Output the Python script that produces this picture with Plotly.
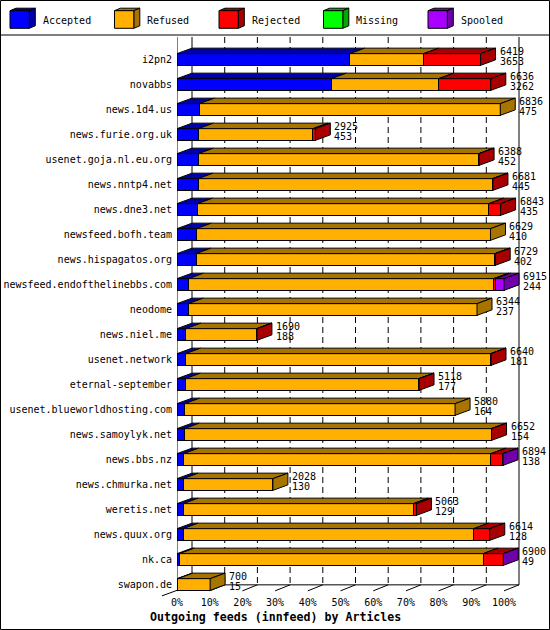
import plotly.graph_objects as go

# ---------------- data ----------------
hosts = ["i2pn2", "novabbs", "news.1d4.us", "news.furie.org.uk", "usenet.goja.nl.eu.org",
         "news.nntp4.net", "news.dne3.net", "newsfeed.bofh.team", "news.hispagatos.org",
         "newsfeed.endofthelinebbs.com", "neodome", "news.niel.me", "usenet.network",
         "eternal-september", "usenet.blueworldhosting.com", "news.samoylyk.net",
         "news.bbs.nz", "news.chmurka.net", "weretis.net", "news.quux.org", "nk.ca", "swapon.de"]
accepted = [3653, 3262, 475, 453, 452, 445, 435, 410, 402, 244, 237, 188, 181, 177, 164, 154,
            138, 130, 129, 128, 49, 15]
refused = [1563, 2271, 6361, 2422, 5930, 6228, 6158, 6219, 6322, 6452, 6107, 1498, 6454, 4937,
           5716, 6493, 6500, 1898, 4864, 6146, 6423, 685]
rejected = [1203, 1103, 0, 50, 6, 8, 250, 0, 5, 40, 0, 4, 5, 4, 0, 5, 253, 0, 70, 340, 425, 0]
missing = [0, 0, 0, 0, 0, 0, 0, 0, 0, 0, 0, 0, 0, 0, 0, 0, 0, 0, 0, 0, 0, 0]
spooled = [0, 0, 0, 0, 0, 0, 0, 0, 0, 179, 0, 0, 0, 0, 0, 0, 3, 0, 0, 0, 3, 0]
series_names = ["Accepted", "Refused", "Rejected", "Missing", "Spooled"]
tick_labels = ["0%", "10%", "20%", "30%", "40%", "50%", "60%", "70%", "80%", "90%", "100%"]
chart_title = "Outgoing feeds (innfeed) by Articles"

# ---------------- style ----------------
front_colors = ["#0000ff", "#ffb000", "#ff0000", "#00ff00", "#aa00ff"]
dark_colors = ["#0000a8", "#a87400", "#a80000", "#00a800", "#7000a8"]
FONT = "DejaVu Sans Mono"
FIG_W, FIG_H = 550, 630
L, R, T, B = 177, 20, 37, 33
W = FIG_W - L - R
H = FIG_H - T - B
PX_FULL = 327.0      # pixel length of 100 %
ROW_PX = 25.0

series = [accepted, refused, rejected, missing, spooled]
n = len(hosts)
totals = [sum(s[i] for s in series) for i in range(n)]
scale_max = max(totals)
ppu = PX_FULL / scale_max
x_max = W / ppu
dx = 15.0 / ppu
dy = 5.5 / ROW_PX
bh = 11.7 / ROW_PX
y_top = -0.9
y_bot = y_top + H / ROW_PX


def px_x(px):
    return (px - L) / W


def px_y(py):
    return (T + H - py) / H


fig = go.Figure()
for name, vals, col in zip(series_names, series, front_colors):
    fig.add_trace(go.Bar(
        y=list(range(n)), x=vals, name=name, orientation="h", width=bh,
        marker=dict(color=col, line=dict(color="black", width=1)),
        showlegend=False, hoverinfo="skip"))

shapes = []
floor_front = (n - 1) + bh / 2
floor_back = floor_front - dy

# grid lines on back wall
for k in range(11):
    xv = scale_max * k / 10 + dx
    shapes.append(dict(type="line", xref="x", yref="y", x0=xv, x1=xv, y0=y_top, y1=floor_back,
                       layer="below",
                       line=dict(color="black", width=1,
                                 dash="solid" if k in (0, 10) else "6px,4px")))
# floor
shapes.append(dict(type="line", xref="x", yref="y", x0=dx, x1=scale_max + dx,
                   y0=floor_back, y1=floor_back, layer="below", line=dict(color="black", width=1)))
for k in range(11):
    xv = scale_max * k / 10
    shapes.append(dict(type="line", xref="x", yref="y", x0=xv, x1=xv + dx,
                       y0=floor_front + 0.02, y1=floor_back, layer="below",
                       line=dict(color="black", width=1)))
# left axis line
shapes.append(dict(type="line", xref="x", yref="y", x0=0, x1=0, y0=y_top, y1=floor_front,
                   line=dict(color="black", width=1)))
shapes.append(dict(type="line", xref="paper", yref="paper",
                   x0=px_x(L), y0=px_y(T + (floor_front - y_top) * ROW_PX),
                   x1=px_x(L - 15), y1=px_y(T + (floor_front - y_top) * ROW_PX + 5.5),
                   line=dict(color="black", width=1)))

# 3D faces of the bars
for i in range(n):
    x0 = 0.0
    last = None
    for j, vals in enumerate(series):
        v = vals[i]
        if v <= 0:
            continue
        x1 = x0 + v
        yt = i - bh / 2
        path = (f"M {x0},{yt} L {x1},{yt} L {x1 + dx},{yt - dy} L {x0 + dx},{yt - dy} Z")
        shapes.append(dict(type="path", xref="x", yref="y", path=path,
                           fillcolor=dark_colors[j], line=dict(color="black", width=1)))
        last = (j, x1)
        x0 = x1
    if last is not None:
        j, x1 = last
        yt = i - bh / 2
        yb = i + bh / 2
        path = (f"M {x1},{yt} L {x1},{yb} L {x1 + dx},{yb - dy} L {x1 + dx},{yt - dy} Z")
        shapes.append(dict(type="path", xref="x", yref="y", path=path,
                           fillcolor=dark_colors[j], line=dict(color="black", width=1)))

annotations = []
for i in range(n):
    xe = totals[i] + dx
    annotations.append(dict(x=xe, y=i - 0.33, xref="x", yref="y", text=str(totals[i]),
                            showarrow=False, xanchor="left", yanchor="middle", xshift=2,
                            font=dict(family=FONT, size=10, color="black")))
    annotations.append(dict(x=xe, y=i + 0.08, xref="x", yref="y", text=str(accepted[i]),
                            showarrow=False, xanchor="left", yanchor="middle", xshift=2,
                            font=dict(family=FONT, size=10, color="black")))

# legend (custom 3D boxes)
for j, name in enumerate(series_names):
    bx0 = 10 + 104.5 * j
    bx1 = bx0 + 19.3
    by0, by1 = 10.7, 28.3
    ddx, ddy = 6, 2.5
    shapes.append(dict(type="path", xref="paper", yref="paper",
                       path=(f"M {px_x(bx0)},{px_y(by0)} L {px_x(bx0 + ddx)},{px_y(by0 - ddy)} "
                             f"L {px_x(bx1 + ddx)},{px_y(by0 - ddy)} L {px_x(bx1)},{px_y(by0)} Z"),
                       fillcolor=dark_colors[j], line=dict(color="black", width=1)))
    shapes.append(dict(type="path", xref="paper", yref="paper",
                       path=(f"M {px_x(bx1)},{px_y(by0)} L {px_x(bx1 + ddx)},{px_y(by0 - ddy)} "
                             f"L {px_x(bx1 + ddx)},{px_y(by1 - ddy)} L {px_x(bx1)},{px_y(by1)} Z"),
                       fillcolor=dark_colors[j], line=dict(color="black", width=1)))
    shapes.append(dict(type="rect", xref="paper", yref="paper",
                       x0=px_x(bx0), x1=px_x(bx1), y0=px_y(by1), y1=px_y(by0),
                       fillcolor=front_colors[j], line=dict(color="black", width=1)))
    annotations.append(dict(x=px_x(40.5 + 104.5 * j), y=px_y(20), xref="paper", yref="paper",
                            text=name, showarrow=False, xanchor="left", yanchor="middle",
                            font=dict(family=FONT, size=10, color="black")))

# outer frame and legend separator
shapes.append(dict(type="rect", xref="paper", yref="paper",
                   x0=px_x(0.5), x1=px_x(FIG_W - 0.5), y0=px_y(FIG_H - 0.5), y1=px_y(0.5),
                   line=dict(color="black", width=1)))
shapes.append(dict(type="line", xref="paper", yref="paper",
                   x0=px_x(0), x1=px_x(FIG_W), y0=px_y(35), y1=px_y(35),
                   line=dict(color="black", width=1)))

annotations.append(dict(x=px_x(275), y=px_y(617), xref="paper", yref="paper", text=chart_title,
                        showarrow=False, xanchor="center", yanchor="middle",
                        font=dict(family=FONT, size=11.6, color="black", weight="bold")))

fig.update_layout(
    template="none",
    width=FIG_W, height=FIG_H,
    margin=dict(l=L, r=R, t=T, b=B, pad=0),
    barmode="stack",
    bargap=0,
    plot_bgcolor="white", paper_bgcolor="white",
    showlegend=False,
    hovermode=False,
    shapes=shapes,
    annotations=annotations,
    xaxis=dict(range=[0, x_max], tickvals=[scale_max * k / 10 for k in range(11)],
               ticktext=tick_labels, ticks="", showgrid=False, zeroline=False, showline=False,
               automargin=False, ticklabelstandoff=-2, fixedrange=True,
               tickfont=dict(family=FONT, size=10, color="black")),
    yaxis=dict(range=[y_bot, y_top], tickvals=list(range(n)), ticktext=hosts, ticks="",
               showgrid=False, zeroline=False, showline=False, automargin=False,
               ticklabelstandoff=4, fixedrange=True,
               tickfont=dict(family=FONT, size=10, color="black")),
)

fig.write_html("out.html", config={"displayModeBar": False, "staticPlot": True},
               post_script="document.body.style.margin='0';")
